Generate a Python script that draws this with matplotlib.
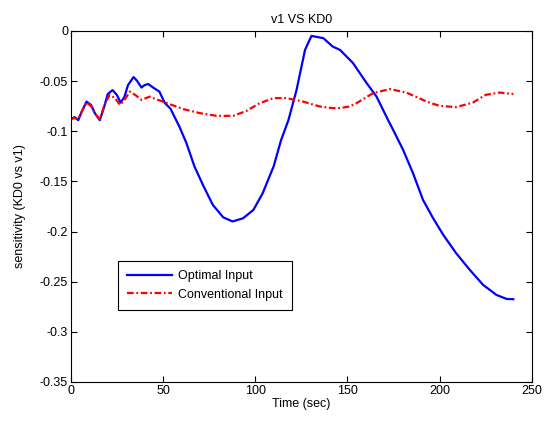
import matplotlib
matplotlib.use("Agg")
import matplotlib.pyplot as plt
from matplotlib.ticker import FuncFormatter

plt.rcParams["font.family"] = ["Liberation Sans", "DejaVu Sans"]
plt.rcParams["axes.unicode_minus"] = False

# optimal input sensitivity
t_opt = [0, 2, 4, 6, 8.5, 11, 13, 15.7, 18, 20, 22.6, 25, 27, 29, 31, 34, 36,
         38.3, 40, 42, 45, 48, 51, 54, 59, 62.7, 67, 72, 77, 82.6, 87.7, 93.4,
         99, 104, 110, 114, 118, 122.4, 127, 130.5, 137, 142, 146, 153, 160.4,
         165.8, 172, 174.8, 180.2, 185.6, 191, 196.5, 202, 209, 216.4, 223.6,
         230.8, 236.3, 240]
v_opt = [-0.088, -0.086, -0.089, -0.080, -0.0705, -0.074, -0.082, -0.089,
         -0.076, -0.063, -0.059, -0.064, -0.0715, -0.066, -0.054, -0.046,
         -0.050, -0.0565, -0.054, -0.053, -0.057, -0.0605, -0.072, -0.0775,
         -0.096, -0.112, -0.135, -0.155, -0.1735, -0.1858, -0.190, -0.1868,
         -0.1785, -0.162, -0.135, -0.109, -0.089, -0.059, -0.019, -0.005,
         -0.0073, -0.0156, -0.019, -0.032, -0.052, -0.0655, -0.0887, -0.0987,
         -0.1186, -0.142, -0.1685, -0.1868, -0.2034, -0.2217, -0.2383, -0.2532,
         -0.2632, -0.2672, -0.2675]

# conventional input sensitivity
t_conv = [0, 2, 4, 6, 8.5, 11, 13, 15.7, 18, 21, 24, 26.6, 29, 32, 35, 38.3,
          42.8, 46, 50, 55, 61, 70, 79, 88, 95, 102.5, 110, 117, 126, 135, 142,
          146, 151, 155, 164, 173, 182, 193, 200, 209, 218, 225, 232.6, 240]
v_conv = [-0.0877, -0.087, -0.088, -0.080, -0.0715, -0.075, -0.082, -0.0887,
          -0.075, -0.0638, -0.067, -0.0738, -0.069, -0.0605, -0.064, -0.0688,
          -0.0655, -0.068, -0.0705, -0.074, -0.078, -0.082, -0.0847, -0.0847,
          -0.080, -0.072, -0.067, -0.067, -0.0705, -0.0754, -0.077, -0.077,
          -0.0754, -0.072, -0.062, -0.058, -0.0615, -0.0705, -0.0748, -0.076,
          -0.0715, -0.0638, -0.0615, -0.063]

fig = plt.figure(figsize=(5.58, 4.23), dpi=100)
ax = fig.add_axes([0.127, 0.097, 0.826, 0.83])

ax.plot(t_opt, v_opt, color="blue", lw=1.6, label="Optimal Input")
ax.plot(t_conv, v_conv, color="red", lw=1.6, dashes=(3, 1.2, 0.8, 1.2),
        label="Conventional Input")

ax.set_xlim(0, 250)
ax.set_ylim(-0.35, 0)
ax.set_xticks([0, 50, 100, 150, 200, 250])
ax.set_yticks([-0.35, -0.3, -0.25, -0.2, -0.15, -0.1, -0.05, 0])
ax.yaxis.set_major_formatter(FuncFormatter(lambda v, p: "%g" % round(v, 2)))
ax.tick_params(direction="in", top=True, right=True, labelsize=9, length=4,
               pad=2)

ax.set_title("v1 VS KD0", fontsize=9)
ax.set_xlabel("Time (sec)", fontsize=9, labelpad=1)
ax.set_ylabel("sensitivity (KD0 vs v1)", fontsize=9, labelpad=10)

leg = ax.legend(loc="lower left", bbox_to_anchor=(0.102, 0.205), fontsize=9,
                fancybox=False, edgecolor="black", framealpha=1,
                borderaxespad=0, handlelength=3.6, handletextpad=0.45,
                borderpad=0.75, labelspacing=0.5)
leg.get_frame().set_linewidth(0.8)

fig.savefig("out.png", dpi=100)
